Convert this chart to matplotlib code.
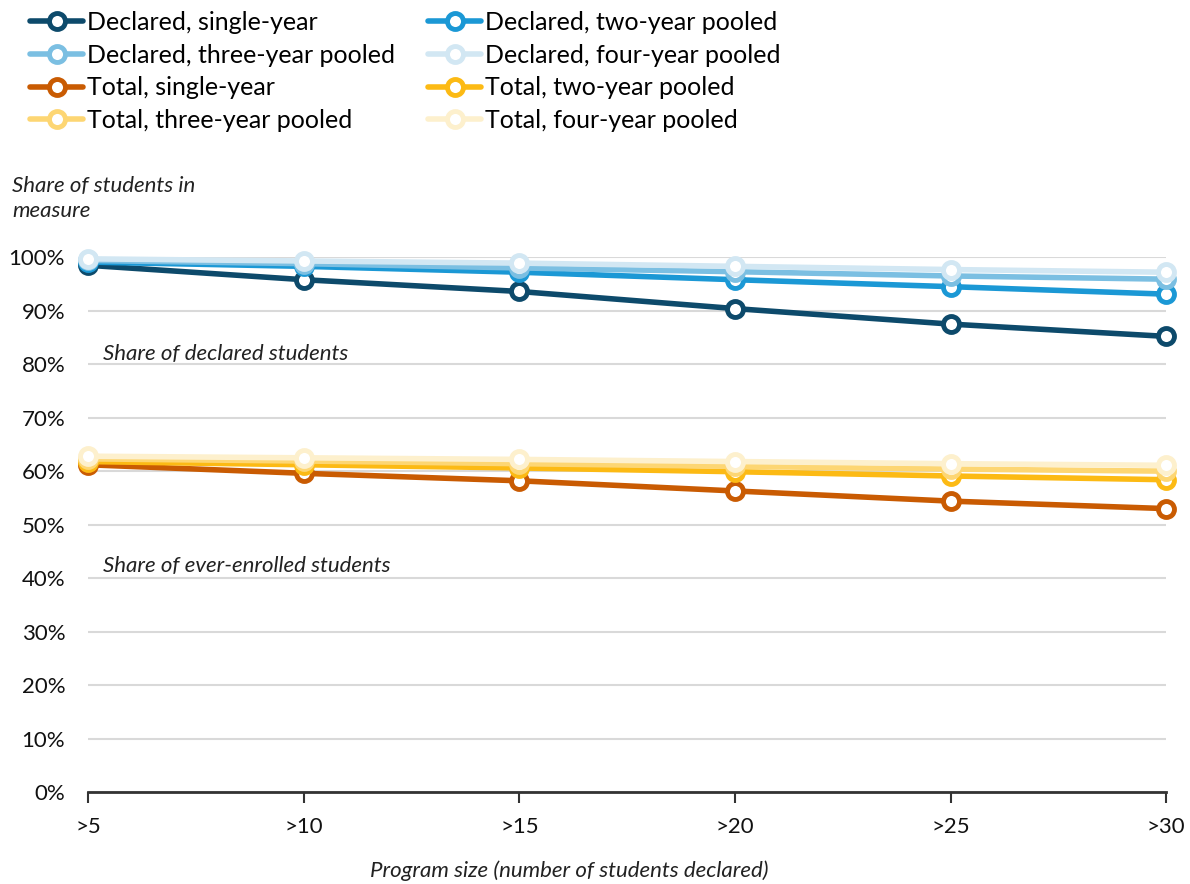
import matplotlib
matplotlib.use("Agg")
import matplotlib.pyplot as plt
from matplotlib.lines import Line2D
from matplotlib.ticker import PercentFormatter

categories = [">5", ">10", ">15", ">20", ">25", ">30"]

declared_single = [98.5, 95.8, 93.6, 90.4, 87.5, 85.2]
declared_two = [99.1, 98.3, 97.2, 95.8, 94.5, 93.1]
declared_three = [99.4, 98.8, 98.0, 97.3, 96.5, 95.9]
declared_four = [99.7, 99.3, 98.9, 98.3, 97.7, 97.2]
total_single = [61.2, 59.6, 58.2, 56.3, 54.4, 53.0]
total_two = [61.8, 61.2, 60.6, 59.9, 59.1, 58.4]
total_three = [62.3, 61.9, 61.4, 60.9, 60.4, 60.0]
total_four = [62.8, 62.5, 62.2, 61.8, 61.4, 61.1]

series = [
    ("Declared, single-year", declared_single, "#0d4a6b"),
    ("Declared, two-year pooled", declared_two, "#1b98d5"),
    ("Declared, three-year pooled", declared_three, "#7bbfe2"),
    ("Declared, four-year pooled", declared_four, "#d2e7f3"),
    ("Total, single-year", total_single, "#c95b02"),
    ("Total, two-year pooled", total_two, "#fcba14"),
    ("Total, three-year pooled", total_three, "#fdd673"),
    ("Total, four-year pooled", total_four, "#fdf0cd"),
]

plt.rcParams["font.family"] = ["Lato", "DejaVu Sans"]

fig = plt.figure(figsize=(11.9, 8.84), dpi=100)
ax = fig.add_axes([0.074, 0.104, 0.906, 0.605])

x = list(range(len(categories)))
handles = {}
for i, (name, vals, col) in enumerate(series):
    ax.plot(x, vals, color=col, lw=4, marker="o", ms=11.5, mfc="white",
            mec=col, mew=3.5, clip_on=False, zorder=3 + i, solid_capstyle="round")
    handles[i] = Line2D([0], [0], color=col, lw=4, marker="o", ms=11.5,
                        mfc="white", mec=col, mew=3.5, solid_capstyle="round")

ax.set_xlim(0, len(categories) - 1)
ax.set_ylim(0, 100)
ax.set_yticks(range(0, 101, 10))
ax.yaxis.set_major_formatter(PercentFormatter(decimals=0))
ax.set_xticks(x)
ax.set_xticklabels(categories)
ax.grid(axis="y", color="#d9d9d9", lw=1.5)
ax.set_axisbelow(True)
for s in ["top", "right", "left"]:
    ax.spines[s].set_visible(False)
ax.spines["bottom"].set_color("#333333")
ax.spines["bottom"].set_linewidth(2)
ax.spines["bottom"].set_zorder(20)
ax.tick_params(axis="y", length=0, labelsize=16, pad=16.5, colors="#111111")
ax.tick_params(axis="x", length=8, width=1.5, color="#333333", labelsize=16,
               pad=10, labelcolor="#111111")

ax.text(0.07, 82.0, "Share of declared students", fontsize=16, style="italic",
        color="#222222", va="center")
ax.text(0.07, 42.2, "Share of ever-enrolled students", fontsize=16, style="italic",
        color="#222222", va="center")

fig.text(0.010, 0.775, "Share of students in\nmeasure", fontsize=16, style="italic",
         color="#222222", va="center", ha="left", linespacing=1.3)
fig.text(0.478, 0.003, "Program size (number of students declared)", fontsize=16,
         style="italic", color="#222222", ha="center", va="bottom")

# legend fills column-wise; reference reads row-wise
leg_order = [0, 2, 4, 6, 1, 3, 5, 7]
leg = fig.legend([handles[i] for i in leg_order], [series[i][0] for i in leg_order],
                 loc="upper left", bbox_to_anchor=(0.0165, 0.999), ncol=2,
                 frameon=False, fontsize=18, handlelength=2.15, handletextpad=0.15,
                 columnspacing=1.3, labelspacing=0.39, borderaxespad=0)

fig.savefig("out.png", dpi=100)
